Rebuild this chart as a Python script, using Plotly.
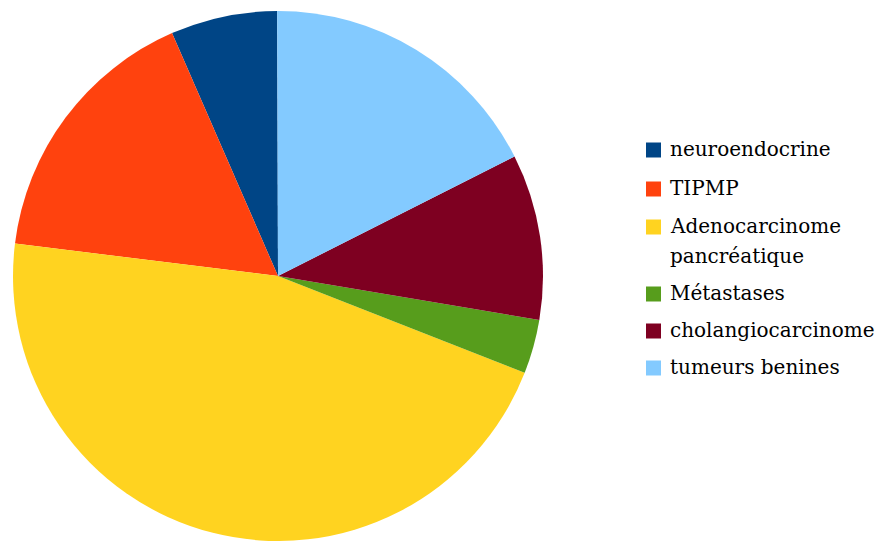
import plotly.graph_objects as go

labels = ["neuroendocrine", "TIPMP", "Adenocarcinome<br>pancréatique", "Métastases",
          "cholangiocarcinome", "tumeurs benines"]
values = [6.5, 16.5, 46.0, 3.3, 10.1, 17.6]
colors = ["#004586", "#ff420e", "#ffd320", "#579d1c", "#7e0021", "#83caff"]

# page body has an 8px margin; work in screen pixels and subtract it
OFF = 8
W, H = 888 - OFF, 541 - OFF
cx, cy, r = 278 - OFF, 276 - OFF, 265
FONT = "DejaVu Serif"
FS = 20

def px(x):
    return (x - OFF) / W

def py(y):
    return 1 - (y - OFF) / H

fig = go.Figure(go.Pie(
    labels=labels, values=values, sort=False, direction="counterclockwise",
    rotation=-23.57, textinfo="none", hoverinfo="label+percent",
    marker=dict(colors=colors, line=dict(width=0)),
    domain=dict(x=[(cx - r) / W, (cx + r) / W], y=[(H - cy - r) / H, (H - cy + r) / H]),
    showlegend=False,
))

# hand-built legend (square + label), screen-pixel layout
sq_x0, sq_size, txt_x = 646, 15, 668
sq_centers = [150, 189, 227, 294, 331, 368]
line_gap = 30
shapes, annotations = [], []
for lab, col, yc in zip(labels, colors, sq_centers):
    shapes.append(dict(type="rect", xref="paper", yref="paper",
                       x0=px(sq_x0), x1=px(sq_x0 + sq_size),
                       y0=py(yc + sq_size / 2), y1=py(yc - sq_size / 2),
                       fillcolor=col, line=dict(width=0)))
    for i, part in enumerate(lab.split("<br>")):
        annotations.append(dict(text=part, xref="paper", yref="paper",
                                x=px(txt_x), y=py(yc + i * line_gap - 1),
                                xanchor="left", yanchor="middle", showarrow=False,
                                font=dict(family=FONT, size=FS, color="black")))

fig.update_layout(
    width=W, height=H, margin=dict(l=0, r=0, t=0, b=0, autoexpand=False),
    paper_bgcolor="white", plot_bgcolor="white",
    font=dict(family=FONT, size=FS, color="black"),
    shapes=shapes, annotations=annotations,
)
fig.write_html("out.html")
